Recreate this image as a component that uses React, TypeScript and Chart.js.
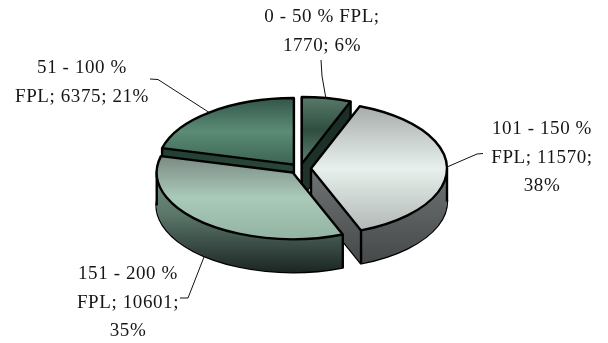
import React, { useEffect, useRef } from "react";
import { Chart, registerables } from "chart.js";

Chart.register(...registerables);

// Households by poverty-level band
const categories = ["0 - 50 % FPL", "101 - 150 % FPL", "151 - 200 % FPL", "51 - 100 % FPL"];
const seriesValues = [1770, 11570, 10601, 6375];

// Label text is wrapped by hand to fit beside the pie
const labelLines = [
  ["0 - 50 % FPL;", "1770; 6%"],
  ["101 - 150 %", "FPL; 11570;", "38%"],
  ["151 - 200 %", "FPL; 10601;", "35%"],
  ["51 - 100 %", "FPL; 6375; 21%"],
];

const labelCentres = [
  [322, 22],
  [542, 134],
  [128, 279],
  [82, 73],
];
const leaders = [
  [[321, 60], [322, 76], [326, 99]],
  [[483, 153.5], [477, 154], [447, 167]],
  [[180, 298], [188, 298], [204, 257]],
  [[150, 79], [158, 79.5], [210, 113]],
];

const PIE_RADIUS = 136;
const SQUASH = 0.49;
const DEPTH = 33;
const explode = [10, 11, 11, 10];
const paintOrder = [3, 0, 1, 2];

const baseColours = ["#3f6152", "#e6efeb", "#a9c9b8", "#5a8a73"];
const topStops = [
  ["#587a6a", "#2f4e3f", "#5d8170"],
  ["#a7acaa", "#e7f0ec", "#b2b8b5"],
  ["#7a8a83", "#aacab9", "#93b3a3"],
  ["#33564a", "#5b8c75", "#3d6454"],
];
const wallStops = [
  ["#1a2c25", "#20352c"],
  ["#8b908e", "#45494a"],
  ["#7d9a8c", "#5b776a", "#1c2624"],
  ["#182c25", "#2f5141"],
];

const FONT = '19px "Liberation Serif", serif';
const LINE_HEIGHT = 28.5;

const slicePath = (ctx: CanvasRenderingContext2D, cx: number, cy: number, a: number, b: number) => {
  ctx.beginPath();
  ctx.moveTo(cx, cy);
  ctx.ellipse(cx, cy, PIE_RADIUS, PIE_RADIUS * SQUASH, 0, a, b);
  ctx.closePath();
};

const verticalGradient = (ctx: CanvasRenderingContext2D, y0: number, y1: number, stops: string[]) => {
  const g = ctx.createLinearGradient(0, y0, 0, y1);
  stops.forEach((c, i) => g.addColorStop(i / (stops.length - 1), c));
  return g;
};

const includesAngle = (a: number, b: number, t: number) => {
  for (let k = -2; k <= 2; k++) {
    const v = t + k * 2 * Math.PI;
    if (v >= a && v <= b) return true;
  }
  return false;
};

// Tilted, extruded rendering of the pie's arc elements, with wrapped callouts
const tiltedPie = {
  id: "tiltedPie",
  beforeDatasetsDraw(chart: any) {
    const ctx: CanvasRenderingContext2D = chart.ctx;
    const arcs = chart.getDatasetMeta(0).data;
    ctx.save();
    ctx.lineWidth = 2.4;
    ctx.lineJoin = "round";
    ctx.strokeStyle = "#000";

    paintOrder.forEach((i) => {
      const arc = arcs[i];
      const a: number = arc.startAngle;
      const b: number = arc.endAngle;
      const mid = (a + b) / 2;
      const cx = arc.x + explode[i] * Math.cos(mid);
      const cy = arc.y + explode[i] * Math.sin(mid) * SQUASH;
      const ry = PIE_RADIUS * SQUASH;

      const ys = [cy, cy + ry * Math.sin(a), cy + ry * Math.sin(b)];
      if (includesAngle(a, b, -Math.PI / 2)) ys.push(cy - ry);
      if (includesAngle(a, b, Math.PI / 2)) ys.push(cy + ry);
      const top = Math.min(...ys);
      const bottom = Math.max(...ys);

      // side walls: stacked copies of the slice from the base upward
      ctx.fillStyle = verticalGradient(ctx, top, bottom + DEPTH, wallStops[i]);
      slicePath(ctx, cx, cy + DEPTH, a, b);
      ctx.stroke();
      for (let dz = DEPTH; dz > 0; dz--) {
        slicePath(ctx, cx, cy + dz, a, b);
        ctx.fill();
      }

      // vertical edges at the corners and at the rim's silhouette
      const edges = [
        [cx, cy],
        [cx + PIE_RADIUS * Math.cos(a), cy + ry * Math.sin(a)],
        [cx + PIE_RADIUS * Math.cos(b), cy + ry * Math.sin(b)],
      ];
      if (includesAngle(a, b, 0)) edges.push([cx + PIE_RADIUS, cy]);
      if (includesAngle(a, b, Math.PI)) edges.push([cx - PIE_RADIUS, cy]);
      edges.forEach(([x, y]) => {
        ctx.beginPath();
        ctx.moveTo(x, y);
        ctx.lineTo(x, y + DEPTH);
        ctx.stroke();
      });

      // top face
      ctx.fillStyle = verticalGradient(ctx, top, bottom, topStops[i]);
      slicePath(ctx, cx, cy, a, b);
      ctx.fill();
      ctx.stroke();
    });
    ctx.restore();

    // callouts
    ctx.save();
    ctx.strokeStyle = "#111";
    ctx.lineWidth = 1;
    leaders.forEach((pts) => {
      ctx.beginPath();
      pts.forEach(([x, y], k) => (k ? ctx.lineTo(x, y) : ctx.moveTo(x, y)));
      ctx.stroke();
    });
    ctx.font = FONT;
    ctx.fillStyle = "#161616";
    ctx.textAlign = "center";
    ctx.textBaseline = "alphabetic";
    (ctx as any).letterSpacing = "0.6px";
    labelLines.forEach((lines, i) => {
      lines.forEach((line, k) => {
        ctx.fillText(line, labelCentres[i][0], labelCentres[i][1] + k * LINE_HEIGHT);
      });
    });
    ctx.restore();
    return false;
  },
};

export default function App() {
  const ref = useRef<HTMLCanvasElement>(null);
  useEffect(() => {
    const chart = new Chart(ref.current!, {
      type: "pie",
      data: {
        labels: categories,
        datasets: [{ data: seriesValues, backgroundColor: baseColours, borderWidth: 0 }],
      },
      options: {
        animation: false,
        responsive: false,
        radius: PIE_RADIUS,
        layout: { padding: { right: 8, bottom: 6 } },
        plugins: { legend: { display: false }, tooltip: { enabled: false } },
      },
      plugins: [tiltedPie],
    } as any);
    return () => chart.destroy();
  }, []);
  return (
    <div style={{ position: "absolute", left: 0, top: 0 }}>
      <canvas ref={ref} width={608} height={343} style={{ display: "block" }} />
    </div>
  );
}
